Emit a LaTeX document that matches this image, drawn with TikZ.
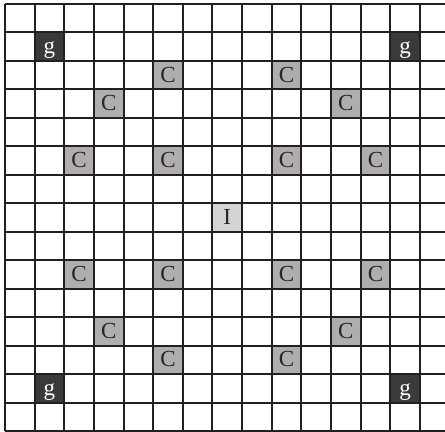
\documentclass[tikz,border=0pt]{standalone}
\usepackage{fontspec}
\setmainfont{Liberation Serif}
\definecolor{gdark}{HTML}{3A3A3A}
\definecolor{cgray}{HTML}{B0ADAD}
\definecolor{igray}{HTML}{D4D4D4}
\definecolor{linecol}{HTML}{231F20}

\begin{document}
\begin{tikzpicture}[x=14.82pt, y=14.24pt]
	\tikzset{
		cell/.style={minimum width=14.82pt, minimum height=14.24pt, inner sep=0pt, text height=0.85em, text depth=0.15em, font=\fontsize{11.5}{13}\selectfont},
		goal/.style={cell, fill=gdark, text=white},
		cross/.style={cell, fill=cgray, text=black!85},
		start/.style={cell, fill=igray, text=black!85},
		gridline/.style={linecol, line width=1pt}
	}
	\useasboundingbox (-0.169,-0.025) rectangle (14.845,15.14);
	\foreach \c/\r [count=\i] in {1/1,13/1,1/13,13/13} {
		\node[goal] (g\i) at (\c+0.5,14.5-\r) {g};
	}
	\foreach \c/\r [count=\i] in {5/2,9/2,3/3,11/3,2/5,5/5,9/5,12/5,2/9,5/9,9/9,12/9,3/11,11/11,5/12,9/12} {
		\node[cross] (c\i) at (\c+0.5,14.5-\r) {C};
	}
	\node[start] (init) at (7.5,7.5) {I};
	\foreach \k in {0,...,15} {
		\draw[gridline] (\k,0) -- (\k,15);
		\draw[gridline] (0,\k) -- (15,\k);
	}
\end{tikzpicture}
\end{document}
